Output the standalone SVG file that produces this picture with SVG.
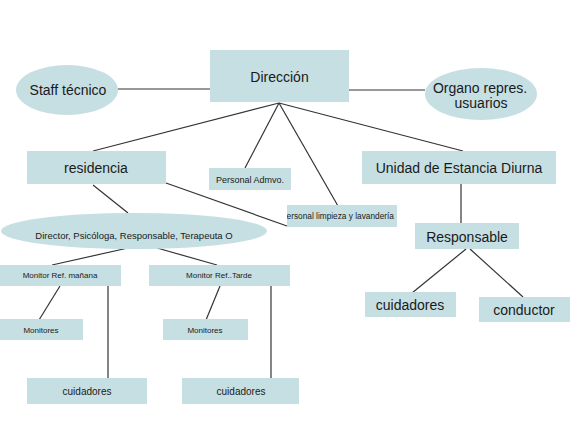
<svg xmlns="http://www.w3.org/2000/svg" width="581" height="436" viewBox="0 0 581 436">
<style>
.n{fill:#c6dfe2;stroke:none}
.t{font-family:"Liberation Sans",Arial,sans-serif;fill:#1a1a1a;text-anchor:middle}
.c line{stroke:#333;stroke-width:1.2}
</style>
<defs>
<clipPath id="clipL"><rect x="287" y="205" width="110" height="22"/></clipPath>
</defs>
<rect width="581" height="436" fill="#fff"/>
<g class="c">
<line x1="118" y1="89" x2="210" y2="89"/>
<line x1="349" y1="90" x2="425" y2="90"/>
<line x1="279" y1="103" x2="93" y2="151"/>
<line x1="279" y1="103" x2="245" y2="168"/>
<line x1="279" y1="103" x2="338" y2="206"/>
<line x1="279" y1="103" x2="463" y2="151"/>
<line x1="166" y1="183" x2="287" y2="226"/>
<line x1="93" y1="185" x2="128" y2="213"/>
<line x1="128" y1="248" x2="52" y2="265"/>
<line x1="157" y1="248" x2="217" y2="265"/>
<line x1="60" y1="286" x2="39" y2="320"/>
<line x1="220" y1="286" x2="206" y2="320"/>
<line x1="108" y1="286" x2="108" y2="379"/>
<line x1="271" y1="286" x2="271" y2="379"/>
<line x1="461" y1="184" x2="461" y2="223"/>
<line x1="466" y1="249" x2="412" y2="293"/>
<line x1="470" y1="249" x2="523" y2="297"/>
</g>
<g id="direccion"><rect class="n" x="210" y="50" width="139" height="52"/><text class="t" x="279.5" y="82" font-size="14">Dirección</text></g>
<g id="staff"><ellipse class="n" cx="67" cy="90" rx="51" ry="25"/><text class="t" x="68" y="95" font-size="14">Staff técnico</text></g>
<g id="organo"><ellipse class="n" cx="481" cy="94" rx="56" ry="26"/><text class="t" x="480" y="93" font-size="14">Organo repres.</text><text class="t" x="481" y="108" font-size="14">usuarios</text></g>
<g id="residencia"><rect class="n" x="27" y="151" width="139" height="33"/><text class="t" x="96" y="173" font-size="14">residencia</text></g>
<g id="admvo"><rect class="n" x="209" y="168" width="82" height="22"/><text class="t" x="250" y="183" font-size="9">Personal Admvo.</text></g>
<g id="limpieza"><rect class="n" x="287" y="205" width="110" height="22"/><g clip-path="url(#clipL)"><text class="t" x="281" y="219" font-size="8.3" style="text-anchor:start">Personal limpieza y lavandería</text></g></g>
<g id="unidad"><rect class="n" x="362" y="151" width="194" height="33"/><text class="t" x="459" y="173" font-size="14">Unidad de Estancia Diurna</text></g>
<g id="director"><ellipse class="n" cx="134" cy="231" rx="133" ry="18"/><text class="t" x="134" y="239" font-size="9.5">Director, Psicóloga, Responsable, Terapeuta O</text></g>
<g id="manana"><rect class="n" x="0" y="265" width="121" height="21"/><text class="t" x="60" y="278" font-size="8">Monitor Ref. mañana</text></g>
<g id="tarde"><rect class="n" x="149" y="265" width="141" height="21"/><text class="t" x="219" y="278" font-size="8">Monitor Ref..Tarde</text></g>
<g id="monitores1"><rect class="n" x="0" y="319" width="83" height="21"/><text class="t" x="41" y="333" font-size="8">Monitores</text></g>
<g id="monitores2"><rect class="n" x="163" y="319" width="85" height="21"/><text class="t" x="205" y="333" font-size="8">Monitores</text></g>
<g id="cuidadores1"><rect class="n" x="27" y="378" width="120" height="26"/><text class="t" x="87" y="395" font-size="10">cuidadores</text></g>
<g id="cuidadores2"><rect class="n" x="182" y="378" width="117" height="26"/><text class="t" x="241" y="395" font-size="10">cuidadores</text></g>
<g id="responsable"><rect class="n" x="415" y="223" width="104" height="26"/><text class="t" x="467" y="242" font-size="14">Responsable</text></g>
<g id="cuidadores3"><rect class="n" x="365" y="292" width="91" height="25"/><text class="t" x="410" y="310" font-size="14">cuidadores</text></g>
<g id="conductor"><rect class="n" x="479" y="297" width="91" height="25"/><text class="t" x="524" y="315" font-size="14">conductor</text></g>
</svg>
